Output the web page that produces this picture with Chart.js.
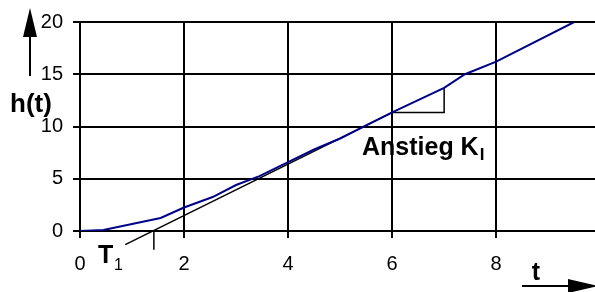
<!DOCTYPE html>
<html>
<head>
<meta charset="utf-8">
<script src="https://cdn.jsdelivr.net/npm/chart.js@4.4.1/dist/chart.umd.min.js"></script>
<style>
  html, body { margin: 0; padding: 0; background: #fff; }
  canvas { display: block; }
</style>
</head>
<body>
<canvas id="hChart" width="595" height="292"></canvas>
<script>
// step response h(t)
var tValues = [0, 0.45, 1.55, 2, 2.55, 3, 3.45, 4, 4.5, 5, 5.5, 6, 7, 7.4, 8, 9.5];
var hValues = [0, 0.1, 1.25, 2.25, 3.25, 4.4, 5.25, 6.6, 7.8, 8.85, 10.1, 11.35, 13.7, 15.0, 16.2, 20.0];

// tangent (inflection tangent), slope triangle, T1 marker
var tangentT = [0.87, 6];
var tangentH = [-1.3, 11.33];
var slopeT = [6, 7, 7];
var slopeH = [11.33, 11.33, 13.7];
var t1Value = 1.42;
var t1MarkH = [0, -1.8];

var xTicks = [0, 2, 4, 6, 8];
var yTicks = [0, 5, 10, 15, 20];

var FONT = "'Liberation Sans', Arial, sans-serif";

function pts(xs, ys) {
	return xs.map(function(x, i) { return { x: x, y: ys[i] }; });
}

var labelsPlugin = {
	id: 'labels',
	afterDraw: function(chart) {
		var ctx = chart.ctx;
		ctx.save();
		ctx.fillStyle = '#000';
		ctx.strokeStyle = '#000';
		ctx.textBaseline = 'alphabetic';

		// up arrow
		ctx.lineWidth = 2;
		ctx.beginPath();
		ctx.moveTo(30, 76); ctx.lineTo(30, 34);
		ctx.stroke();
		ctx.beginPath();
		ctx.moveTo(30, 8); ctx.lineTo(23, 37); ctx.lineTo(37, 37); ctx.closePath();
		ctx.fill();

		// right arrow
		ctx.beginPath();
		ctx.moveTo(522, 286); ctx.lineTo(572, 286);
		ctx.stroke();
		ctx.beginPath();
		ctx.moveTo(598, 286); ctx.lineTo(568, 279); ctx.lineTo(568, 293); ctx.closePath();
		ctx.fill();

		ctx.font = 'bold 26px ' + FONT;
		ctx.textAlign = 'left';
		ctx.fillText('h(t)', 10, 112);

		ctx.font = 'bold 25px ' + FONT;
		ctx.textAlign = 'center';
		ctx.fillText('t', 536, 280);

		// T1
		ctx.textAlign = 'left';
		ctx.font = 'bold 25px ' + FONT;
		ctx.fillText('T', 98, 263);
		ctx.font = '16px ' + FONT;
		ctx.fillText('1', 114, 270);

		// Anstieg K_I
		ctx.font = 'bold 25px ' + FONT;
		var ax = 362, ay = 155;
		ctx.fillText('Anstieg K', ax, ay);
		var w = ctx.measureText('Anstieg K').width;
		ctx.font = 'bold 17px ' + FONT;
		ctx.fillText('I', ax + w + 1, ay + 5);

		ctx.restore();
	}
};

var chart = new Chart(document.getElementById('hChart').getContext('2d'), {
	type: 'scatter',
	data: {
		datasets: [{
			data: pts(tValues, hValues),
			showLine: true,
			borderColor: '#000088',
			borderWidth: 2,
			pointRadius: 0,
			tension: 0
		}, {
			data: pts(tangentT, tangentH),
			showLine: true,
			borderColor: '#000',
			borderWidth: 1.5,
			pointRadius: 0,
			clip: false
		}, {
			data: pts(slopeT, slopeH),
			showLine: true,
			borderColor: '#000',
			borderWidth: 1.5,
			pointRadius: 0
		}, {
			data: pts([t1Value, t1Value], t1MarkH),
			showLine: true,
			borderColor: '#000',
			borderWidth: 1.5,
			pointRadius: 0,
			clip: false
		}]
	},
	options: {
		responsive: false,
		animation: false,
		layout: { padding: { top: 21, right: 0, left: 0, bottom: 0 } },
		plugins: {
			legend: { display: false },
			tooltip: { enabled: false }
		},
		scales: {
			x: {
				type: 'linear',
				min: 0,
				max: 9.9,
				afterBuildTicks: function(scale) {
					scale.ticks = xTicks.map(function(v) { return { value: v }; });
				},
				afterFit: function(scale) { scale.height = 61; },
				grid: { color: '#000', lineWidth: 2, tickLength: 7, tickColor: '#000' },
				border: { color: '#000', width: 2 },
				ticks: {
					color: '#000',
					padding: 14,
					maxRotation: 0,
					font: { family: FONT, size: 20 }
				}
			},
			y: {
				type: 'linear',
				min: 0,
				max: 20,
				afterBuildTicks: function(scale) {
					scale.ticks = yTicks.map(function(v) { return { value: v }; });
				},
				afterFit: function(scale) { scale.width = 80; },
				grid: { color: '#000', lineWidth: 2, tickLength: 7, tickColor: '#000' },
				border: { color: '#000', width: 2 },
				ticks: {
					color: '#000',
					padding: 10,
					font: { family: FONT, size: 20 }
				}
			}
		}
	},
	plugins: [labelsPlugin]
});
</script>
</body>
</html>
